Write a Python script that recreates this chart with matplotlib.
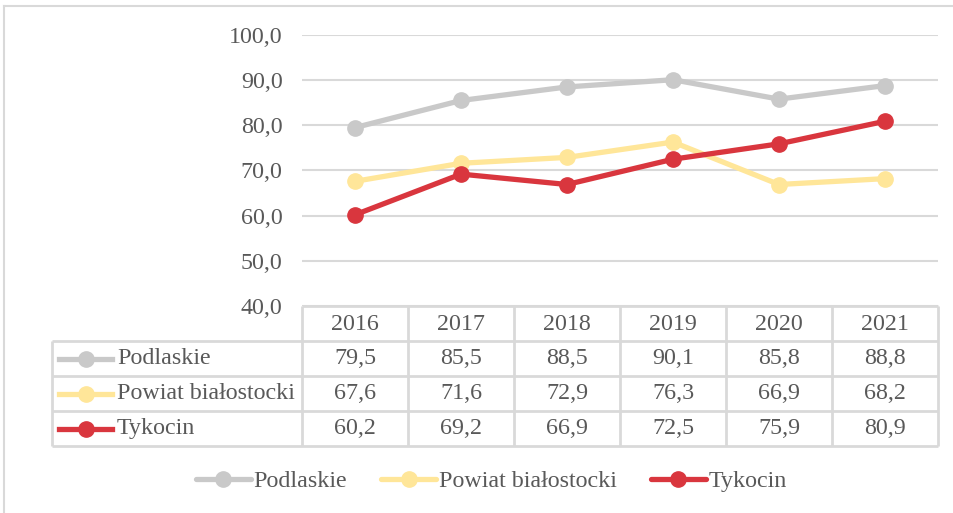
import matplotlib
matplotlib.use("Agg")
import matplotlib.pyplot as plt
from matplotlib.ticker import FuncFormatter

# data
years = ["2016", "2017", "2018", "2019", "2020", "2021"]
podlaskie = [79.5, 85.5, 88.5, 90.1, 85.8, 88.8]
powiat = [67.6, 71.6, 72.9, 76.3, 66.9, 68.2]
tykocin = [60.2, 69.2, 66.9, 72.5, 75.9, 80.9]
names = ["Podlaskie", "Powiat białostocki", "Tykocin"]
colors = ["#C9C9C9", "#FFE699", "#D9363E"]

W, H = 954, 513
txt = "#595959"
grid = "#D9D9D9"
fs = 17.3
plt.rcParams["font.family"] = ["Liberation Serif", "DejaVu Serif"]

fig = plt.figure(figsize=(W / 100, H / 100), dpi=100)

# overlay in pixel coords for the frame and the data table
ov = fig.add_axes([0, 0, 1, 1])
ov.set_xlim(0, W)
ov.set_ylim(H, 0)
ov.axis("off")

# plot area: x 302..938, y 35 (100) .. 306 (40)
px0, px1, py0, py1 = 302, 938, 35, 306
ax = fig.add_axes([px0 / W, 1 - py1 / H, (px1 - px0) / W, (py1 - py0) / H])
xs = list(range(len(years)))
series = [podlaskie, powiat, tykocin]
handles = []
for vals, name, c in zip(series, names, colors):
    h, = ax.plot(xs, vals, color=c, lw=3.8, marker="o", ms=11, label=name,
                 solid_capstyle="round", zorder=3)
    handles.append(h)
ax.set_xlim(-0.5, len(years) - 0.5)
ax.set_ylim(40, 100)
ax.set_yticks(range(40, 101, 10))
ax.yaxis.set_major_formatter(FuncFormatter(lambda v, p: f"{v:.1f}".replace(".", ",")))
ax.tick_params(axis="y", length=0, pad=14, labelsize=fs, labelcolor=txt)
ax.set_xticks([])
ax.grid(axis="y", color=grid, lw=1.5)
ax.set_axisbelow(True)
for s in ax.spines.values():
    s.set_visible(False)
ax.patch.set_alpha(0)

# outer frame
ov.plot([4, 4], [6, H], color=grid, lw=1.5)
ov.plot([4, W], [6, 6], color=grid, lw=1.5)

# data table
colw = (px1 - px0) / len(years)
row_y = [306, 341, 376, 411, 446]
lab_x0 = 52
tkw = dict(color=grid, lw=2, solid_capstyle="butt")
ov.plot([px0, px1], [row_y[0], row_y[0]], **tkw)
for y in row_y[1:]:
    ov.plot([lab_x0, px1], [y, y], **tkw)
ov.plot([lab_x0, lab_x0], [row_y[1], row_y[-1]], **tkw)
for i in range(len(years) + 1):
    ov.plot([px0 + i * colw] * 2, [row_y[0], row_y[-1]], **tkw)

for i, yr in enumerate(years):
    ov.text(px0 + (i + 0.5) * colw, (row_y[0] + row_y[1]) / 2 + 1, yr,
            ha="center", va="center", fontsize=fs, color=txt)
for r, (vals, name, c) in enumerate(zip(series, names, colors)):
    yc = (row_y[r + 1] + row_y[r + 2]) / 2
    ov.plot([59, 112], [yc, yc], color=c, lw=3.8)
    ov.plot([86], [yc], color=c, marker="o", ms=11)
    ov.text(117, yc, name, ha="left", va="center", fontsize=fs, color=txt)
    for i, v in enumerate(vals):
        ov.text(px0 + (i + 0.5) * colw, yc, f"{v:.1f}".replace(".", ","),
                ha="center", va="center", fontsize=fs, color=txt)

leg = fig.legend(handles=handles, loc="center", bbox_to_anchor=(0.515, 1 - 481 / H),
                 ncol=3, frameon=False, fontsize=fs, handlelength=2.3,
                 handletextpad=0.12, columnspacing=1.4)
for t in leg.get_texts():
    t.set_color(txt)

fig.savefig("out.png", dpi=100)
